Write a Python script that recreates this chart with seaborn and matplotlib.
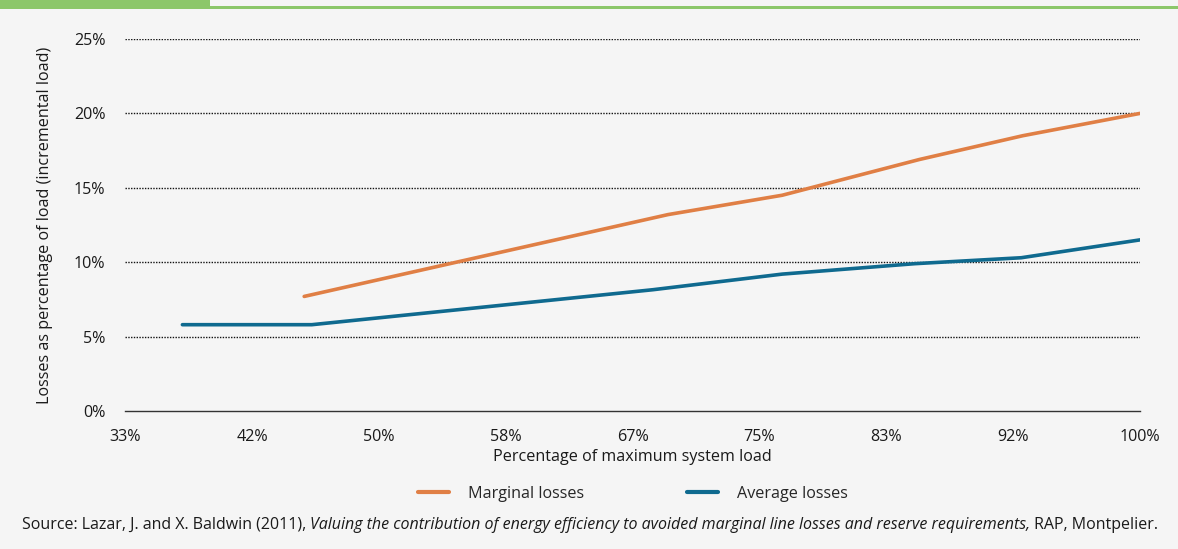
import matplotlib
matplotlib.use("Agg")
import matplotlib.pyplot as plt
import seaborn as sns
import pandas as pd
from matplotlib.lines import Line2D
from matplotlib.patches import Rectangle

# ---- data ----
marginal_x = [45.1, 69.0, 76.5, 85.5, 92.3, 100.0]
marginal_y = [7.7, 13.2, 14.5, 16.9, 18.5, 20.0]
average_x = [37.1, 45.6, 68.0, 76.5, 85.2, 92.2, 100.0]
average_y = [5.8, 5.8, 8.15, 9.2, 9.9, 10.3, 11.5]
series_names = ["Marginal losses", "Average losses"]
x_ticks = [33.33, 41.67, 50.0, 58.33, 66.67, 75.0, 83.33, 91.67, 100.0]
x_tick_labels = ["33%", "42%", "50%", "58%", "67%", "75%", "83%", "92%", "100%"]
y_ticks = [0, 5, 10, 15, 20, 25]
y_tick_labels = ["0%", "5%", "10%", "15%", "20%", "25%"]

colors = {"Marginal losses": "#e07f45", "Average losses": "#0f6a8f"}
BG = "#f5f5f5"
GREEN = "#8cc76a"
FS = 11.6

df = pd.concat([
    pd.DataFrame({"x": marginal_x, "y": marginal_y, "series": series_names[0]}),
    pd.DataFrame({"x": average_x, "y": average_y, "series": series_names[1]}),
], ignore_index=True)

sns.set_theme(style="white")
plt.rcParams["font.family"] = ["Open Sans", "DejaVu Sans"]

fig = plt.figure(figsize=(11.78, 5.49), dpi=100, facecolor=BG)
ax = fig.add_axes([125 / 1178, 1 - 411 / 549, (1140 - 125) / 1178, (411 - 39) / 549])
ax.set_facecolor(BG)

# top green band
fig.patches.append(Rectangle((0, 1 - 9 / 549), 210 / 1178, 9 / 549, transform=fig.transFigure,
                             facecolor=GREEN, edgecolor="none"))
fig.patches.append(Rectangle((210 / 1178, 1 - 9 / 549), 1 - 210 / 1178, 3 / 549, transform=fig.transFigure,
                             facecolor=GREEN, edgecolor="none"))

for yv in y_ticks[1:]:
    ax.axhline(yv, color="#111111", lw=1.0, ls=(0, (1, 1)), zorder=1)

sns.lineplot(data=df, x="x", y="y", hue="series", palette=colors, sort=False,
             estimator=None, linewidth=2.6, legend=False, ax=ax, zorder=3)

ax.set_xlim(x_ticks[0], x_ticks[-1])
ax.set_ylim(0, 25)
ax.set_xticks(x_ticks)
ax.set_xticklabels(x_tick_labels, fontsize=FS, color="#1a1a1a")
ax.set_yticks(y_ticks)
ax.set_yticklabels(y_tick_labels, fontsize=FS, color="#1a1a1a")
ax.tick_params(axis="both", length=0)
ax.tick_params(axis="y", pad=14)
ax.tick_params(axis="x", pad=13)
for s in ["top", "right", "left"]:
    ax.spines[s].set_visible(False)
ax.spines["bottom"].set_color("#333333")
ax.spines["bottom"].set_linewidth(1.0)

ax.set_xlabel("Percentage of maximum system load", fontsize=FS, color="#1a1a1a", labelpad=3)
ax.set_ylabel("Losses as percentage of load (incremental load)", fontsize=FS, color="#1a1a1a", labelpad=15)

handles = [Line2D([0], [0], color=colors[n], lw=3) for n in series_names]
fig.legend(handles, series_names, loc="center", bbox_to_anchor=(633 / 1178, 1 - 494 / 549), ncol=2,
           frameon=False, fontsize=FS, handlelength=1.93, handletextpad=1.18, columnspacing=6.4)

# source line with mixed styles
fig.canvas.draw()
renderer = fig.canvas.get_renderer()
parts = [("Source: Lazar, J. and X. Baldwin (2011), ", "normal"),
         ("Valuing the contribution of energy efficiency to avoided marginal line losses and reserve requirements,", "italic"),
         (" RAP, Montpelier.", "normal")]
xpos = 22 / 1178
ypos = 1 - 525 / 549
for txt, style in parts:
    t = fig.text(xpos, ypos, txt, fontsize=11.5, style=style, color="#1a1a1a", va="center", ha="left")
    bb = t.get_window_extent(renderer=renderer)
    xpos = bb.x1 / fig.bbox.width

fig.savefig("out.png", dpi=100, facecolor=BG)
